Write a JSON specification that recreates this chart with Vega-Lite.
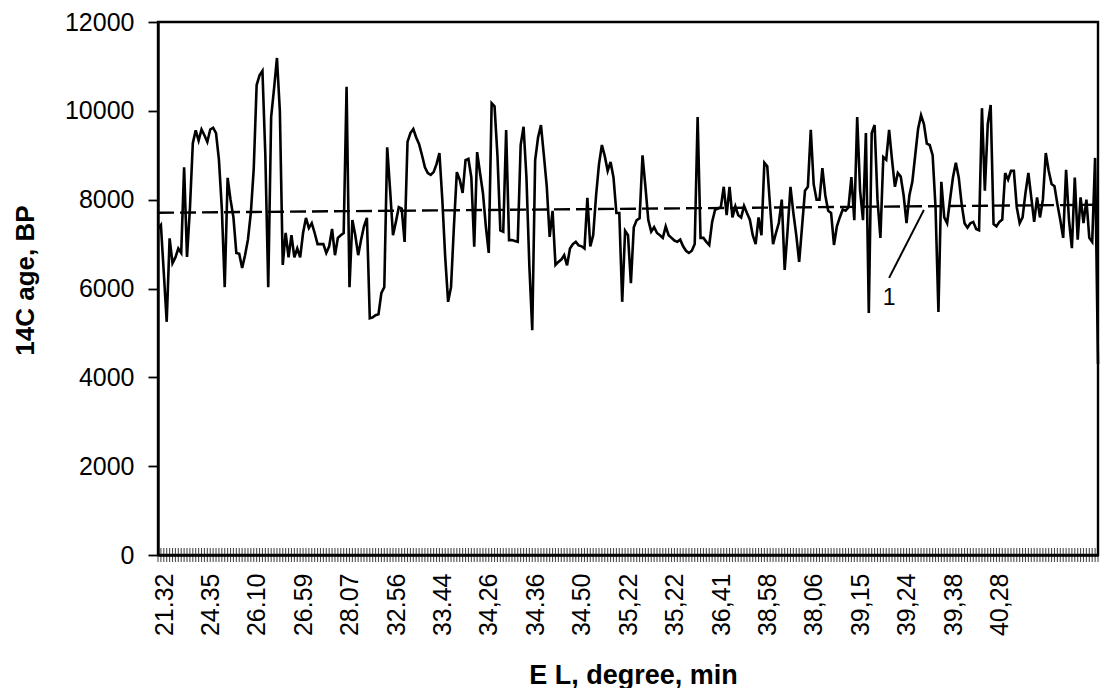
{
  "$schema": "https://vega.github.io/schema/vega-lite/v6.json",
  "width": 940,
  "height": 533,
  "autosize": {"type": "none"},
  "padding": {"left": 158, "top": 22, "right": 2, "bottom": 133},
  "background": "white",
  "config": {"view": {"stroke": "black", "strokeWidth": 2.4}, "font": "Liberation Sans"},
  "datasets": {
    "ages": [
      {"i":0,"age":7350},{"i":1,"age":7430},{"i":2,"age":6350},{"i":3,"age":5250},{"i":4,"age":7130},{"i":5,"age":6570},{"i":6,"age":6700},{"i":7,"age":6900},{"i":8,"age":6800},{"i":9,"age":8730},
      {"i":10,"age":6710},{"i":11,"age":7800},{"i":12,"age":9270},{"i":13,"age":9560},{"i":14,"age":9330},{"i":15,"age":9580},{"i":16,"age":9450},{"i":17,"age":9300},{"i":18,"age":9580},{"i":19,"age":9620},
      {"i":20,"age":9500},{"i":21,"age":8900},{"i":22,"age":7800},{"i":23,"age":6030},{"i":24,"age":8490},{"i":25,"age":8000},{"i":26,"age":7600},{"i":27,"age":6800},{"i":28,"age":6780},{"i":29,"age":6460},
      {"i":30,"age":6750},{"i":31,"age":7100},{"i":32,"age":7700},{"i":33,"age":8700},{"i":34,"age":10580},{"i":35,"age":10800},{"i":36,"age":10900},{"i":37,"age":9000},{"i":38,"age":6030},{"i":39,"age":9860},
      {"i":40,"age":10500},{"i":41,"age":11190},{"i":42,"age":10000},{"i":43,"age":6530},{"i":44,"age":7250},{"i":45,"age":6700},{"i":46,"age":7200},{"i":47,"age":6700},{"i":48,"age":6900},{"i":49,"age":6700},
      {"i":50,"age":7250},{"i":51,"age":7590},{"i":52,"age":7360},{"i":53,"age":7470},{"i":54,"age":7250},{"i":55,"age":7000},{"i":56,"age":7000},{"i":57,"age":7000},{"i":58,"age":6800},{"i":59,"age":6950},
      {"i":60,"age":7340},{"i":61,"age":6750},{"i":62,"age":7140},{"i":63,"age":7200},{"i":64,"age":7250},{"i":65,"age":10540},{"i":66,"age":6030},{"i":67,"age":7540},{"i":68,"age":7200},{"i":69,"age":6750},
      {"i":70,"age":7100},{"i":71,"age":7400},{"i":72,"age":7590},{"i":73,"age":5330},{"i":74,"age":5350},{"i":75,"age":5400},{"i":76,"age":5420},{"i":77,"age":5900},{"i":78,"age":6030},{"i":79,"age":9180},
      {"i":80,"age":8220},{"i":81,"age":7200},{"i":82,"age":7500},{"i":83,"age":7830},{"i":84,"age":7800},{"i":85,"age":7050},{"i":86,"age":9300},{"i":87,"age":9500},{"i":88,"age":9590},{"i":89,"age":9400},
      {"i":90,"age":9250},{"i":91,"age":9000},{"i":92,"age":8730},{"i":93,"age":8600},{"i":94,"age":8560},{"i":95,"age":8620},{"i":96,"age":8800},{"i":97,"age":9050},{"i":98,"age":8000},{"i":99,"age":6700},
      {"i":100,"age":5700},{"i":101,"age":6030},{"i":102,"age":7400},{"i":103,"age":8620},{"i":104,"age":8450},{"i":105,"age":8150},{"i":106,"age":8890},{"i":107,"age":8920},{"i":108,"age":8500},{"i":109,"age":6940},
      {"i":110,"age":9070},{"i":111,"age":8600},{"i":112,"age":8150},{"i":113,"age":7400},{"i":114,"age":6800},{"i":115,"age":10170},{"i":116,"age":10100},{"i":117,"age":9000},{"i":118,"age":7310},{"i":119,"age":7280},
      {"i":120,"age":9570},{"i":121,"age":7090},{"i":122,"age":7090},{"i":123,"age":7070},{"i":124,"age":7050},{"i":125,"age":9230},{"i":126,"age":9640},{"i":127,"age":8500},{"i":128,"age":6500},{"i":129,"age":5060},
      {"i":130,"age":8890},{"i":131,"age":9400},{"i":132,"age":9680},{"i":133,"age":9000},{"i":134,"age":8300},{"i":135,"age":7160},{"i":136,"age":7750},{"i":137,"age":6530},{"i":138,"age":6600},{"i":139,"age":6650},
      {"i":140,"age":6750},{"i":141,"age":6520},{"i":142,"age":6900},{"i":143,"age":7000},{"i":144,"age":7050},{"i":145,"age":6970},{"i":146,"age":6950},{"i":147,"age":6900},{"i":148,"age":8040},{"i":149,"age":6950},
      {"i":150,"age":7200},{"i":151,"age":8100},{"i":152,"age":8800},{"i":153,"age":9230},{"i":154,"age":8980},{"i":155,"age":8650},{"i":156,"age":8850},{"i":157,"age":8500},{"i":158,"age":7700},{"i":159,"age":7700},
      {"i":160,"age":5700},{"i":161,"age":7300},{"i":162,"age":7200},{"i":163,"age":6120},{"i":164,"age":7380},{"i":165,"age":7540},{"i":166,"age":7580},{"i":167,"age":9000},{"i":168,"age":8300},{"i":169,"age":7540},
      {"i":170,"age":7280},{"i":171,"age":7380},{"i":172,"age":7250},{"i":173,"age":7200},{"i":174,"age":7140},{"i":175,"age":7400},{"i":176,"age":7200},{"i":177,"age":7140},{"i":178,"age":7080},{"i":179,"age":7050},
      {"i":180,"age":7100},{"i":181,"age":6950},{"i":182,"age":6850},{"i":183,"age":6800},{"i":184,"age":6850},{"i":185,"age":7000},{"i":186,"age":9860},{"i":187,"age":7140},{"i":188,"age":7140},{"i":189,"age":7050},
      {"i":190,"age":6980},{"i":191,"age":7500},{"i":192,"age":7770},{"i":193,"age":7800},{"i":194,"age":7830},{"i":195,"age":8290},{"i":196,"age":7650},{"i":197,"age":8290},{"i":198,"age":7600},{"i":199,"age":7850},
      {"i":200,"age":7650},{"i":201,"age":7600},{"i":202,"age":7860},{"i":203,"age":7700},{"i":204,"age":7550},{"i":205,"age":7200},{"i":206,"age":7000},{"i":207,"age":7600},{"i":208,"age":7200},{"i":209,"age":8830},
      {"i":210,"age":8750},{"i":211,"age":7830},{"i":212,"age":7000},{"i":213,"age":7250},{"i":214,"age":7480},{"i":215,"age":8000},{"i":216,"age":6420},{"i":217,"age":7300},{"i":218,"age":8290},{"i":219,"age":7700},
      {"i":220,"age":7200},{"i":221,"age":6600},{"i":222,"age":7400},{"i":223,"age":8200},{"i":224,"age":8290},{"i":225,"age":9570},{"i":226,"age":8350},{"i":227,"age":8000},{"i":228,"age":8000},{"i":229,"age":8710},
      {"i":230,"age":8100},{"i":231,"age":7750},{"i":232,"age":7700},{"i":233,"age":6980},{"i":234,"age":7400},{"i":235,"age":7600},{"i":236,"age":7780},{"i":237,"age":7750},{"i":238,"age":7830},{"i":239,"age":8510},
      {"i":240,"age":7540},{"i":241,"age":9860},{"i":242,"age":8200},{"i":243,"age":7540},{"i":244,"age":9500},{"i":245,"age":5450},{"i":246,"age":9500},{"i":247,"age":9680},{"i":248,"age":8000},{"i":249,"age":7140},
      {"i":250,"age":8960},{"i":251,"age":8900},{"i":252,"age":9570},{"i":253,"age":8900},{"i":254,"age":8290},{"i":255,"age":8600},{"i":256,"age":8520},{"i":257,"age":8100},{"i":258,"age":7470},{"i":259,"age":8100},
      {"i":260,"age":8400},{"i":261,"age":9000},{"i":262,"age":9600},{"i":263,"age":9900},{"i":264,"age":9700},{"i":265,"age":9260},{"i":266,"age":9230},{"i":267,"age":9000},{"i":268,"age":7830},{"i":269,"age":5470},
      {"i":270,"age":8400},{"i":271,"age":7600},{"i":272,"age":7470},{"i":273,"age":8000},{"i":274,"age":8500},{"i":275,"age":8830},{"i":276,"age":8500},{"i":277,"age":7900},{"i":278,"age":7470},{"i":279,"age":7370},
      {"i":280,"age":7470},{"i":281,"age":7500},{"i":282,"age":7340},{"i":283,"age":7310},{"i":284,"age":10060},{"i":285,"age":8200},{"i":286,"age":9700},{"i":287,"age":10130},{"i":288,"age":7450},{"i":289,"age":7400},
      {"i":290,"age":7500},{"i":291,"age":7550},{"i":292,"age":8600},{"i":293,"age":8450},{"i":294,"age":8650},{"i":295,"age":8650},{"i":296,"age":7830},{"i":297,"age":7470},{"i":298,"age":7600},{"i":299,"age":8150},
      {"i":300,"age":8600},{"i":301,"age":8050},{"i":302,"age":7500},{"i":303,"age":8050},{"i":304,"age":7600},{"i":305,"age":8000},{"i":306,"age":9050},{"i":307,"age":8650},{"i":308,"age":8350},{"i":309,"age":8300},
      {"i":310,"age":7900},{"i":311,"age":7540},{"i":312,"age":7140},{"i":313,"age":8670},{"i":314,"age":7540},{"i":315,"age":6910},{"i":316,"age":8500},{"i":317,"age":7100},{"i":318,"age":8050},{"i":319,"age":7470},
      {"i":320,"age":8000},{"i":321,"age":7140},{"i":322,"age":7050},{"i":323,"age":8940},{"i":324,"age":4300}
    ],
    "trend": [{"i":0,"age":7705},{"i":324,"age":7885}],
    "note": [{"i":252,"age":6240,"i2":264,"age2":7770,"t":"1","ti":252,"tage":5785}]
  },
  "layer": [
    {
      "data": {"name": "trend"},
      "mark": {"type": "line", "color": "black", "strokeWidth": 2.4, "strokeDash": [16, 6]},
      "encoding": {
        "x": {"field": "i", "type": "quantitative"},
        "y": {"field": "age", "type": "quantitative"}
      }
    },
    {
      "data": {"name": "ages"},
      "mark": {"type": "line", "color": "black", "strokeWidth": 2.6},
      "encoding": {
        "x": {
          "field": "i", "type": "quantitative",
          "scale": {"domain": [0, 324], "nice": false, "zero": false},
          "axis": {
            "title": "E L, degree, min",
            "tickCount": 324,
            "ticks": false,
            "grid": false,
            "domainColor": "black",
            "domainWidth": 2.4,
            "labelAngle": -90,
            "labelPadding": 18,
            "labelOffset": 6,
            "labelFont": "Liberation Sans",
            "labelFontSize": 25,
            "labelColor": "black",
            "labelOverlap": false,
            "labelFlush": false,
            "labelBound": false,
            "labelExpr": "datum.value % 16 === 0 && datum.value <= 288 ? ['21.32','24.35','26.10','26.59','28.07','32.56','33.44','34,26','34.36','34.50','35,22','35,22','36,41','38,58','38,06','39,15','39,24','39,38','40,28'][datum.value / 16] : ''",
            "titleFont": "Liberation Sans",
            "titleFontSize": 27,
            "titleFontWeight": "bold",
            "titleColor": "black",
            "titleX": 475,
            "titleY": 120,
            "titleAlign": "center",
            "titleBaseline": "middle"
          }
        },
        "y": {
          "field": "age", "type": "quantitative",
          "scale": {"domain": [0, 12000], "nice": false},
          "axis": {
            "title": "14C age, BP",
            "values": [0, 2000, 4000, 6000, 8000, 10000, 12000],
            "format": "d",
            "grid": false,
            "domainColor": "black",
            "domainWidth": 2.4,
            "tickColor": "black",
            "tickSize": 10,
            "tickWidth": 1.8,
            "labelFont": "Liberation Sans",
            "labelFontSize": 25,
            "labelColor": "black",
            "labelPadding": 14,
            "labelFlush": false,
            "titleFont": "Liberation Sans",
            "titleFontSize": 26,
            "titleFontWeight": "bold",
            "titleColor": "black",
            "titleAngle": -90,
            "titleX": -133,
            "titleY": 258,
            "titleAlign": "center",
            "titleBaseline": "middle"
          }
        }
      }
    },
    {
      "data": {"name": "ages"},
      "mark": {"type": "tick", "orient": "vertical", "size": 14, "thickness": 1.1, "color": "black"},
      "encoding": {
        "x": {"field": "i", "type": "quantitative"},
        "y": {"datum": 0}
      }
    },
    {
      "data": {"name": "note"},
      "mark": {"type": "rule", "color": "black", "strokeWidth": 2},
      "encoding": {
        "x": {"field": "i", "type": "quantitative"},
        "y": {"field": "age", "type": "quantitative"},
        "x2": {"field": "i2"},
        "y2": {"field": "age2"}
      }
    },
    {
      "data": {"name": "note"},
      "mark": {"type": "text", "color": "black", "font": "Liberation Sans", "fontSize": 23, "align": "center", "baseline": "middle"},
      "encoding": {
        "x": {"field": "ti", "type": "quantitative"},
        "y": {"field": "tage", "type": "quantitative"},
        "text": {"field": "t"}
      }
    }
  ]
}
